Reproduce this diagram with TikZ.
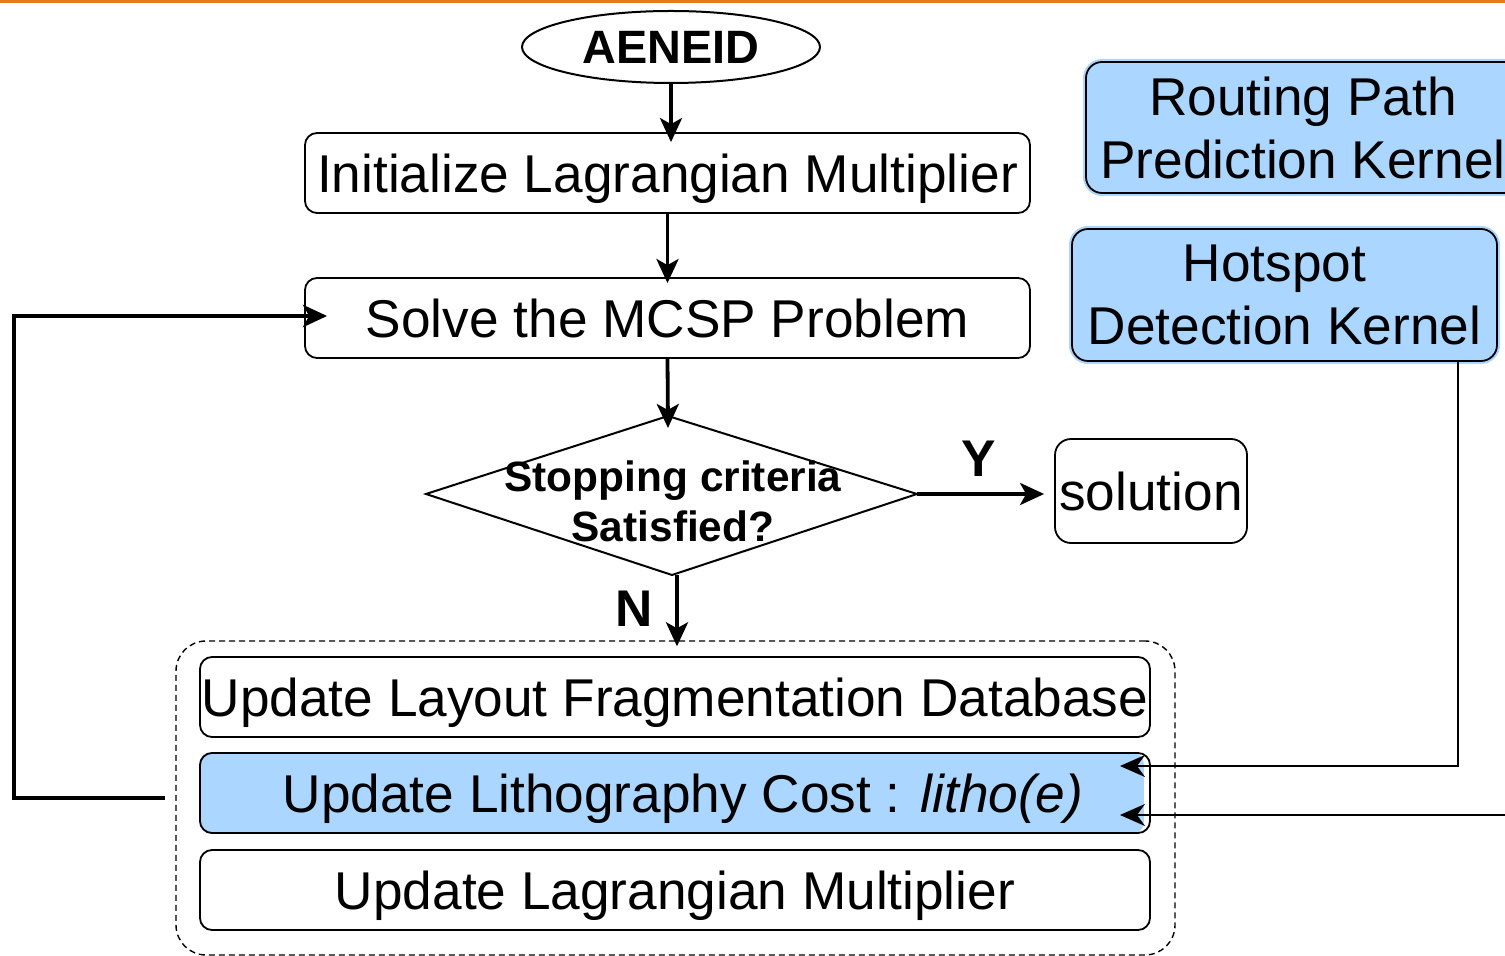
\documentclass[tikz,border=0pt]{standalone}
\usepackage{fontspec}
\setmainfont{Liberation Sans}
\usetikzlibrary{arrows.meta,shapes.geometric,backgrounds}
\definecolor{kblue}{RGB}{170,214,255}
\definecolor{topline}{RGB}{228,122,24}

\begin{document}
\begin{tikzpicture}[x=0.5pt,y=-0.5pt,
  box/.style={draw, rounded corners=6pt, line width=0.9pt, inner sep=0pt,
    minimum height=40pt, text depth=0pt, font=\fontsize{26.6}{30}\selectfont},
  kernel/.style={draw, fill=kblue, rounded corners=8pt, line width=0.9pt, inner sep=0pt,
    preaction={draw=kblue, line width=3pt}, align=center,
    font=\fontsize{26.6}{31.5}\selectfont},
  flow/.style={line width=1.9pt, -{Stealth[length=12pt,width=11pt,inset=3pt]}},
  feed/.style={line width=1pt, -{Stealth[length=12.5pt,width=11pt,inset=4pt]}},
  lbl/.style={font=\fontsize{25.8}{30}\selectfont\bfseries}
]
\useasboundingbox (0,0) rectangle (1505,956);
\clip (0,0) rectangle (1505,956);

% rule along the top edge
\draw[topline, line width=1.5pt] (0,2) -- (1505,2);

% main flow
\node[draw, ellipse, line width=1pt, minimum width=149pt, minimum height=36pt,
  inner sep=0pt, font=\fontsize{23.4}{28}\selectfont\bfseries] (start) at (671,47) {AENEID};
\node[box, minimum width=362.5pt] (init) at (667.5,173) {Initialize Lagrangian Multiplier};
\node[box, minimum width=362.5pt] (solve) at (667.5,318) {Solve the MCSP Problem};

% decision
\coordinate (dT) at (668,416);
\coordinate (dR) at (917,494);
\coordinate (dB) at (672,575);
\coordinate (dL) at (426,494);
\draw[line width=1pt] (dL) -- (dT) -- (dR) -- (dB) -- cycle;
\node[font=\fontsize{21.2}{25}\selectfont\bfseries, align=center, inner sep=0pt]
  (crit) at (673,501) {Stopping criteria\\Satisfied?};

\node[box, minimum width=96pt, minimum height=52pt, rounded corners=8pt] (sol) at (1151,491) {solution};

% update group
\node[draw, dashed, dash pattern=on 3pt off 2pt, rounded corners=15pt, line width=0.7pt,
  minimum width=499.5pt, minimum height=157pt, inner sep=0pt] (grp) at (675.5,798) {};
\node[box, minimum width=475pt] (frag) at (675,697) {Update Layout Fragmentation Database};
\node[box, minimum width=475pt] (lit) at (675,793) {\hspace*{8pt}Update Lithography Cost : \textit{litho(e)}};
\node[box, minimum width=475pt] (lag) at (675,890) {Update Lagrangian Multiplier};
\begin{scope}[on background layer]
  \fill[kblue, rounded corners=6pt] (lit.north west) rectangle ([xshift=-3.5pt]lit.south east);
\end{scope}

% kernels
\node[kernel, minimum width=217pt, minimum height=65.5pt] (route) at (1303,127.5) {Routing Path\\Prediction Kernel};
\node[kernel, minimum width=212.5pt, minimum height=66pt] (hot) at (1284.5,295) {\hspace*{-10pt}Hotspot\\Detection Kernel};

% connectors
\draw[flow] (start.south) -- ([yshift=-5pt]start.south |- init.north);
\draw[flow] (init.south) -- ([yshift=-3pt]solve.north);
\draw[flow] (solve.south) -- ([yshift=-6pt]dT);
\draw[flow] (dR) -- ([xshift=-5pt]sol.west |- dR);
\node[lbl] (ylbl) at (979,459) {Y};
\coordinate (nTop) at (677,575);
\draw[flow] (nTop) -- ([yshift=-3pt]nTop |- grp.north);
\node[lbl] (nlbl) at (634,609) {N};

% loop back to the solver
\coordinate (ls) at (165,798);
\coordinate (lc) at (14,316);
\draw[flow, line width=2.4pt] (ls) -| (lc) -- ([xshift=11.5pt]solve.west |- lc);

% kernel outputs into the lithography cost
\coordinate (hotIn) at (1120,766);
\coordinate (routIn) at (1120,815);
\coordinate (routSrc) at (1510,815);
\draw[feed] ([xshift=-20pt]hot.south east) |- (hotIn);
\draw[feed] (routSrc) -- (routIn);
\end{tikzpicture}
\end{document}
